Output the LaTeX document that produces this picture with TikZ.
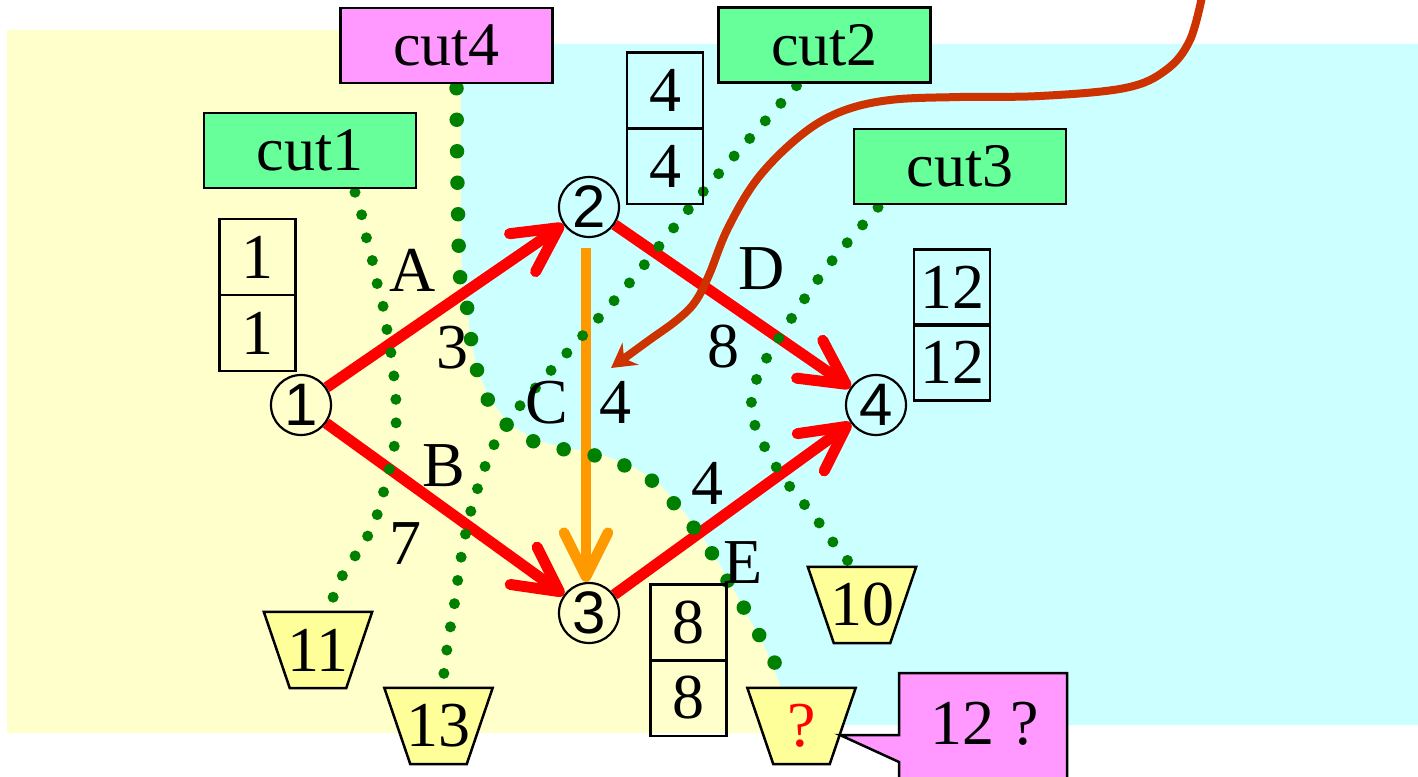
\documentclass[tikz,border=0pt]{standalone}
\usepackage{fontspec}
\setmainfont{Liberation Serif}
\newfontfamily\circfont{Liberation Sans}
\usetikzlibrary{arrows.meta}
\pgfdeclarelayer{bg}
\pgfsetlayers{bg,main}
\definecolor{bgyellow}{HTML}{FFFFCC}
\definecolor{bgcyan}{HTML}{CCFFFF}
\definecolor{cutgreen}{HTML}{66FF99}
\definecolor{cutpink}{HTML}{FF99FF}
\definecolor{trapyellow}{HTML}{FFFF99}
\definecolor{dotgreen}{HTML}{008000}
\definecolor{arrorange}{HTML}{FF9900}
\definecolor{curvered}{HTML}{CC3300}
\newcommand\trapezoidnode[3]{%
  \node[trapbox] (#1) at (#2) {};
  \filldraw[trapshape] (#1.north west) -- (#1.north east) -- ([xshift=-26pt]#1.south east) -- ([xshift=26pt]#1.south west) -- cycle;
  \node[txt] (#1txt) at (#1.center) {#3};
}
\begin{document}
\begin{tikzpicture}[x=1pt,y=-1pt,
  txt/.style={font=\fontsize{64}{70}\selectfont, inner sep=0pt},
  vertex/.style={circle, draw, line width=2.2pt, minimum size=60pt, inner sep=0pt, font=\circfont\fontsize{60}{64}\selectfont},
  cell/.style={draw, line width=2.5pt, minimum width=76pt, minimum height=76pt, inner sep=0pt, font=\fontsize{64}{70}\selectfont},
  cutbox/.style={draw, line width=2.5pt, fill=cutgreen, minimum width=212pt, minimum height=75pt, inner sep=0pt, font=\fontsize{62}{70}\selectfont},
  trapbox/.style={minimum width=108pt, minimum height=76pt, inner sep=0pt},
  trapshape/.style={fill=trapyellow, draw, line width=2.5pt, line join=miter},
  redarrow/.style={draw=red, line width=11pt, -{Straight Barb[length=44pt,width=46pt,round]}},
  orangearrow/.style={draw=arrorange, line width=10.5pt, -{Straight Barb[length=44pt,width=44pt,round]}},
  cutdots/.style={dotgreen, line width=11pt, line cap=round, dash pattern=on 0pt off 23.5pt},
  bigdots/.style={dotgreen, line width=14.5pt, line cap=round, dash pattern=on 0pt off 31.5pt},
  curvearrow/.style={draw=curvered, line width=8pt, -{Stealth[length=24pt,width=27pt]}},
]
\useasboundingbox (0,0) rectangle (1418,776);
\clip (0,0) rectangle (1418,776);

% vertices
\node[vertex] (n1) at (301,405) {1};
\node[vertex] (n2) at (589,207) {2};
\node[vertex] (n3) at (589,613) {3};
\node[vertex] (n4) at (876,405) {4};

% cut labels
\node[cutbox] (cut1) at (310,150.5) {cut1};
\node[cutbox, fill=cutpink] (cut4) at (446.5,45.5) {cut4};
\node[cutbox] (cut2) at (824.5,45) {cut2};
\node[cutbox] (cut3) at (960,166.5) {cut3};

% value cells
\node[cell] (b1t) at (257.5,257) {1};
\node[cell] (b1b) at (257.5,333) {1};
\node[cell] (b2t) at (665,90.5) {4};
\node[cell] (b2b) at (665,166) {4};
\node[cell] (b4t) at (952,287.5) {12};
\node[cell] (b4b) at (952,362.5) {12};
\node[cell] (b3t) at (688.5,622.5) {8};
\node[cell] (b3b) at (688.5,698) {8};

% trapezoids
\trapezoidnode{t11}{318,650}{11}
\trapezoidnode{t13}{438.5,726}{13}
\trapezoidnode{t10}{862,605}{10}
\trapezoidnode{tq}{801.5,726}{\textcolor{red}{?}}

% callout
\filldraw[fill=cutpink, line width=2.5pt, line join=miter] (899,673) -- (1067,673) -- (1067,800) -- (899,800) -- (899,762) -- (840,735) -- (899,735) -- cycle;
\node[txt] (co) at (985,724) {12 ?};

% edge labels
\node[txt] (lA) at (413,270) {A};
\node[txt] (wA) at (452,348) {3};
\node[txt] (lB) at (444,466) {B};
\node[txt] (wB) at (405,544) {7};
\node[txt] (lC) at (547,403) {C};
\node[txt] (wC) at (615,402) {4};
\node[txt] (lD) at (762,269) {D};
\node[txt] (wD) at (723,347) {8};
\node[txt] (wE) at (707,483) {4};
\node[txt] (lE) at (743,563) {E};

\coordinate (ctop) at (1203,-8);
\coordinate (ctip) at (611,368);

\begin{pgfonlayer}{bg}
\clip (0,0) rectangle (1418,776);
% backgrounds
\fill[bgyellow] (7,30) -- (461,30) -- plot[smooth] coordinates {(461,44) (461,150) (462,276) (467,307) (471,339) (478,370) (491,400) (512,425) (540,441) (569,448) (599,454) (631,466) (658,483) (680,507) (699,532) (717,560) (734,590) (750,620) (766,650) (781,688) (793,725)} -- (793,733) -- (7,733) -- cycle;
\fill[bgcyan] plot[smooth] coordinates {(461,44) (461,150) (462,276) (467,307) (471,339) (478,370) (491,400) (512,425) (540,441) (569,448) (599,454) (631,466) (658,483) (680,507) (699,532) (717,560) (734,590) (750,620) (766,650) (781,688) (793,725)} -- (1418,725) -- (1418,44) -- cycle;

% edges
\draw[redarrow] (n1) -- (n2);
\draw[redarrow] (n1) -- (n3);
\draw[redarrow] (n2) -- (n4);
\draw[redarrow] (n3) -- (n4);
\draw[orangearrow] ([xshift=-3pt,yshift=-10pt]n2.south) -- ([xshift=-3pt]n3.north);

% cuts
\draw[cutdots] plot[smooth] coordinates {([xshift=45pt,yshift=-3pt]cut1.south) (361,212) (366,236) (372,259) (377,283) (383,306) (387,330) (391,353) (394,377) (396,402) (396,425) (394,448) (389,471) (383,494) (376,518) (365,541) (351,562) (339,582) ([xshift=10pt]t11.north)};
\draw[cutdots] plot[smooth] coordinates {([xshift=-28pt,yshift=-2pt]cut2.south) (702,193) (626,287) (546,376) (514,413) (499,435) (489,456) (481,478) (474,500) (468,522) (463,547) (459,570) (456,594) (452,618) (448,641) (445,665) ([xshift=3.5pt]t13.north)};
\draw[cutdots] plot[smooth] coordinates {([xshift=-82pt,yshift=-2pt]cut3.south) (831,262) (803,301) (777,341) (765,361) (756,381) (751,408) (757,431) (768,453) (780,473) (794,492) (809,510) (823,528) (838,549) ([xshift=-9pt]t10.north)};
\draw[bigdots] plot[smooth] coordinates {([xshift=10pt,yshift=-4pt]cut4.south) (457,148) (458,212) (460,276) (467,307) (471,339) (477,370) (488,400) (508,426) (535,442) (567,450) (597,456) (628,467) (655,483) (677,507) (697,532) (715,558) (731,587) (747,613) (763,642) (778,669) ([xshift=-16pt]tq.north)};

% curved arrow
\draw[curvearrow] plot[smooth, tension=0.6] coordinates {(ctop) (1190,40) (1166,70) (1125,88) (1040,96) (960,97) (890,100) (840,112) (800,136) (758,178) (728,228) (709,275) (695,302) (677,320) (648,341) (ctip)};
\end{pgfonlayer}
\end{tikzpicture}
\end{document}
